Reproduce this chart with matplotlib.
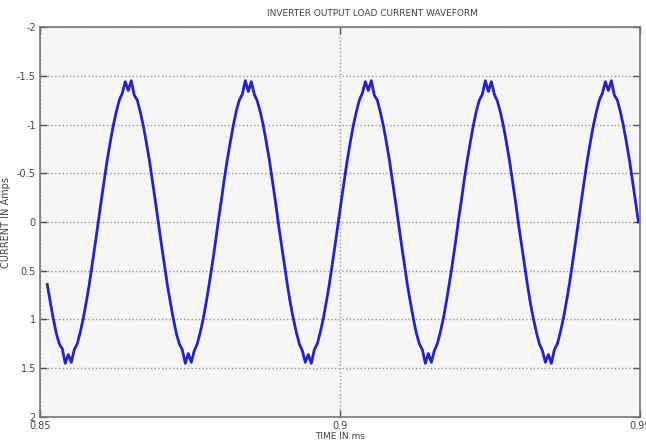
import numpy as np
import matplotlib
matplotlib.use('Agg')
import matplotlib.pyplot as plt

t_start = 0.8512
dt = 0.0005
current = [
    0.64, 0.82, 0.99, 1.14, 1.25, 1.30, 1.45,
    # cycle 1
    1.36, 1.44, 1.31, 1.25, 1.13, 0.99, 0.82, 0.64, 0.43, 0.22,
    0.00, -0.22, -0.43, -0.64, -0.82, -0.99, -1.13, -1.25, -1.32, -1.44,
    -1.35, -1.45, -1.30, -1.25, -1.13, -0.99, -0.82, -0.64, -0.43, -0.22,
    0.00, 0.22, 0.43, 0.64, 0.82, 0.99, 1.14, 1.25, 1.31, 1.45,
    # cycle 2
    1.35, 1.44, 1.32, 1.25, 1.13, 0.99, 0.82, 0.63, 0.43, 0.22,
    -0.01, -0.22, -0.44, -0.64, -0.82, -0.99, -1.14, -1.25, -1.31, -1.45,
    -1.34, -1.44, -1.31, -1.24, -1.13, -0.99, -0.82, -0.64, -0.43, -0.22,
    0.01, 0.22, 0.43, 0.64, 0.83, 0.99, 1.13, 1.25, 1.32, 1.44,
    # cycle 3
    1.36, 1.45, 1.31, 1.25, 1.13, 0.99, 0.82, 0.64, 0.43, 0.22,
    0.00, -0.22, -0.43, -0.64, -0.82, -0.99, -1.13, -1.25, -1.32, -1.44,
    -1.35, -1.45, -1.30, -1.25, -1.13, -0.99, -0.82, -0.64, -0.43, -0.22,
    0.00, 0.22, 0.43, 0.64, 0.82, 0.99, 1.14, 1.25, 1.31, 1.45,
    # cycle 4
    1.35, 1.44, 1.32, 1.25, 1.13, 0.99, 0.82, 0.63, 0.43, 0.22,
    -0.01, -0.22, -0.44, -0.64, -0.82, -0.99, -1.14, -1.25, -1.31, -1.45,
    -1.34, -1.44, -1.31, -1.24, -1.13, -0.99, -0.82, -0.64, -0.43, -0.22,
    0.01, 0.22, 0.43, 0.64, 0.83, 0.99, 1.13, 1.25, 1.32, 1.44,
    # last part
    1.36, 1.45, 1.31, 1.25, 1.13, 0.99, 0.82, 0.64, 0.43, 0.22,
    0.00, -0.22, -0.43, -0.64, -0.82, -0.99, -1.13, -1.25, -1.32, -1.44,
    -1.35, -1.45, -1.30, -1.25, -1.13, -0.99, -0.82, -0.64, -0.43, -0.22,
    0.00,
]
time = t_start + dt * np.arange(len(current))

x_ticks = [0.85, 0.9, 0.95]
y_ticks = [-2, -1.5, -1, -0.5, 0, 0.5, 1, 1.5, 2]

plt.rcParams['axes.unicode_minus'] = False
plt.rcParams['font.family'] = 'DejaVu Sans'

fig = plt.figure(figsize=(6.46, 4.44), dpi=100)
ax = fig.add_axes([0.062, 0.061, 0.929, 0.878])
ax.set_facecolor('#f6f6f6')

ax.plot(time, current, color='#0a0ad8', lw=2.0, alpha=0.9, solid_joinstyle='round')

ax.set_xlim(0.85, 0.95)
ax.set_ylim(2, -2)
ax.set_xticks(x_ticks)
ax.set_xticklabels(['0.85', '0.9', '0.95'])
ax.set_yticks(y_ticks)
ax.set_yticklabels(['-2', '-1.5', '-1', '-0.5', '0', '0.5', '1', '1.5', '2'])
ax.tick_params(direction='in', length=5, width=1, colors='#555555',
               labelsize=7, labelcolor='#444444', top=True, right=True, pad=3)
ax.grid(True, linestyle=':', color='#999999', lw=1)
for s in ax.spines.values():
    s.set_color('#777777')
    s.set_linewidth(1.2)

ax.set_xlabel('TIME IN ms', fontsize=6.5, color='#444444', labelpad=1)
ax.set_ylabel('CURRENT IN Amps', fontsize=7, color='#444444', labelpad=4)
fig.text(372 / 646, 1 - 14 / 444, 'INVERTER OUTPUT LOAD CURRENT WAVEFORM',
         fontsize=6.5, color='#444444', ha='center', va='center')

fig.savefig('out.png', dpi=100)
